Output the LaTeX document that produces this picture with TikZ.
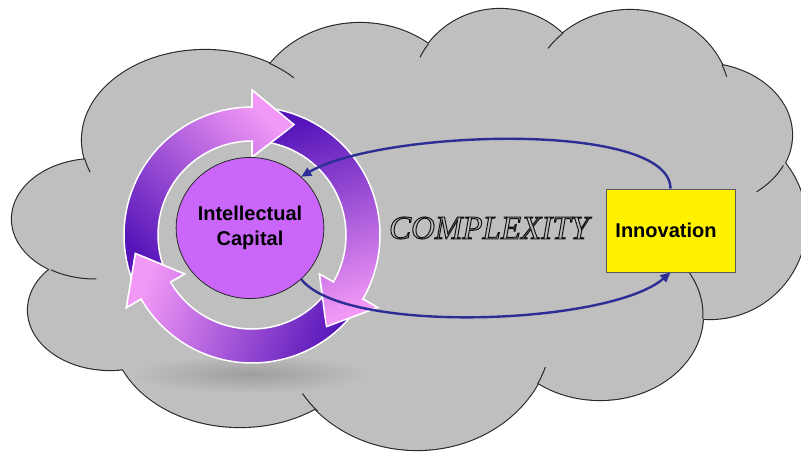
\documentclass[tikz,border=0pt]{standalone}
\usepackage{fontspec}
\setmainfont{Liberation Sans}
\newfontfamily\serifit{Liberation Serif}
\usetikzlibrary{shapes.geometric,arrows.meta}

\definecolor{cloudfill}{RGB}{191,191,191}
\definecolor{cloudedge}{RGB}{40,40,40}
\definecolor{purpdk}{RGB}{85,20,185}
\definecolor{pinklt}{RGB}{242,152,246}
\definecolor{hubfill}{RGB}{202,102,250}
\definecolor{linkblue}{RGB}{45,45,150}

% one arrow of the ring: tail angle, head base angle, shading angle
\newcommand\ringarrow[3]{%
  \path[arrowbody, top color=pinklt, bottom color=purpdk, shading angle=#3]
    (#1:128pt) arc[start angle=#1, end angle=#2, radius=128pt]
    -- (#2:145pt) -- ({#2-21}:118pt) -- (#2:78pt) -- (#2:94pt)
    arc[start angle=#2, end angle=#1, radius=94pt] -- cycle;}
% the same arrow again, kept only inside its head
\newcommand\ringhead[3]{%
  \begin{scope}
    \clip ({#2+1}:149pt) -- ({#2-22}:121pt) -- ({#2+1}:74pt) -- cycle;
    \ringarrow{#1}{#2}{#3}
  \end{scope}}
% inner stroke of a cloud lobe
\newcommand\cloudtail[6]{%
  \draw[cloudline] ([shift={(#5:#3pt and #4pt)}]#1,#2)
    arc[start angle=#5, end angle=#6, x radius=#3pt, y radius=#4pt];}

\begin{document}
\begin{tikzpicture}[x=1pt,y=1pt,
  cloudline/.style={draw=cloudedge, line width=1pt},
  arrowbody/.style={draw=white, line width=1.5pt, line join=miter},
  link/.style={draw=linkblue, line width=2.4pt, -{Triangle[length=10pt,width=9pt]}},
  labelfont/.style={font=\fontsize{20}{25}\selectfont\bfseries}]
\useasboundingbox (0,0) rectangle (801,-452);
\fill[white] (0,0) rectangle (801,-452);

% cloud: lobes stroked wide, then filled, so only the outer rim stays
\def\lobes{95/-219/83/60, 205/-140/123/90, 360/-120/110/97, 500/-95/89/86,
  630/-100/100/90, 700/-135/92/72, 710/-223/96/96, 600/-315/103/85,
  417/-330/135/120, 240/-330/128/97, 110/-310/82/60}
\foreach \cx/\cy/\rx/\ry in \lobes
  {\draw[cloudedge, line width=2.2pt] (\cx,\cy) ellipse [x radius=\rx pt, y radius=\ry pt];}
\foreach \cx/\cy/\rx/\ry in \lobes
  {\fill[cloudfill] (\cx,\cy) ellipse [x radius=\rx pt, y radius=\ry pt];}
\fill[cloudfill] (95,-219) -- (205,-140) -- (360,-120) -- (500,-95) -- (630,-100)
  -- (700,-135) -- (710,-223) -- (600,-315) -- (417,-330) -- (240,-330)
  -- (110,-310) -- cycle;
\cloudtail{95}{-219}{83}{60}{238}{271}
\cloudtail{205}{-140}{123}{90}{191.6}{201}
\cloudtail{205}{-140}{123}{90}{58.6}{43.7}
\cloudtail{500}{-95}{89}{86}{143.6}{154}
\cloudtail{630}{-100}{100}{90}{132}{145}
\cloudtail{630}{-100}{100}{90}{22.9}{14.9}
\cloudtail{700}{-135}{92}{72}{-25}{-52}
\cloudtail{600}{-315}{103}{85}{-2.7}{31.5}
\cloudtail{417}{-330}{135}{120}{-26.7}{-18}
\cloudtail{417}{-330}{135}{120}{222.7}{212}

% soft shadow under the ring
\shade[inner color=black!38, outer color=cloudfill] (250,-374) ellipse [x radius=120, y radius=19];

% ring of three arrows
\begin{scope}[shift={(252,-235)}]
  \ringarrow{205}{90}{-45}
  \ringarrow{85}{-30}{-163}
  \ringarrow{-35}{-150}{70}
  \ringhead{205}{90}{-45}
  \ringhead{85}{-30}{-163}
  \ringhead{-35}{-150}{70}
\end{scope}

% hub and box
\node[ellipse, draw=cloudedge, line width=0.8pt, fill=hubfill, inner sep=0pt,
  minimum width=147pt, minimum height=141pt, align=center, labelfont]
  (ic) at (250,-228) {Intellectual\\Capital};
\node[rectangle, draw=black!65, line width=0.8pt, fill=yellow, inner sep=0pt,
  minimum width=129pt, minimum height=83pt, labelfont]
  (innov) at (670.5,-230.5) {\hspace*{-9pt}Innovation};

\node[font=\serifit\itshape\fontsize{33}{33}\selectfont, text=black!92] (cx) at (489,-228)
  {\special{pdf:literal direct 1 Tr 1.0 w}COMPLEXITY\special{pdf:literal direct 0 Tr}};

% links between hub and box
\draw[link] (innov.north) .. controls (670,-120) and (380,-130) .. (ic.45);
\draw[link] (ic.-45) .. controls (345,-335) and (610,-325) .. (innov.south);
\end{tikzpicture}
\end{document}
